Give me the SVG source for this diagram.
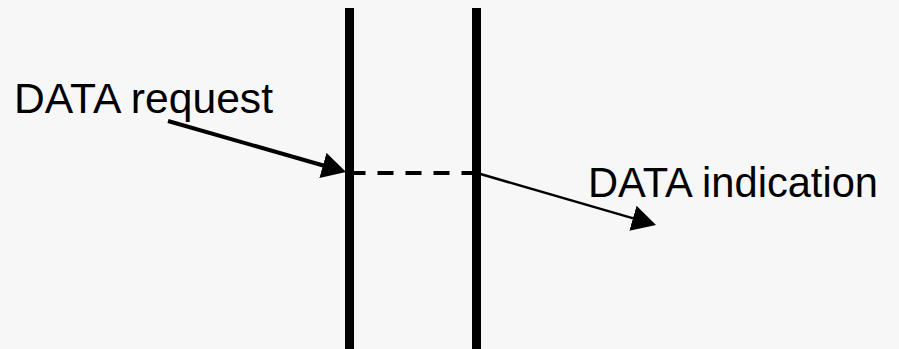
<svg xmlns="http://www.w3.org/2000/svg" width="899" height="349" viewBox="0 0 899 349">
  <style>
    .lane { stroke: #000; stroke-width: 9; fill: none; }
    .arrow { stroke: #000; fill: none; }
    .label { font-family: "Liberation Sans", Arial, sans-serif; font-size: 42px; fill: #000; }
  </style>
  <defs>
    <marker id="head" viewBox="0 -13 24 26" refX="4" refY="0" markerWidth="24" markerHeight="26" markerUnits="userSpaceOnUse" orient="auto">
      <path d="M0,-13 L24,0 L0,13 z" fill="#000"/>
    </marker>
  </defs>
  <rect width="899" height="349" fill="#f7f7f7"/>
  <g id="lane-left"><line class="lane" x1="349.5" y1="8" x2="349.5" y2="349"/></g>
  <g id="lane-right"><line class="lane" x1="476.5" y1="8" x2="476.5" y2="349"/></g>
  <g id="label-request"><text class="label" x="14" y="113" textLength="259" lengthAdjust="spacingAndGlyphs">DATA request</text></g>
  <g id="label-indication"><text class="label" x="588" y="197" textLength="290" lengthAdjust="spacingAndGlyphs">DATA indication</text></g>
  <g id="connectors">
    <line class="arrow" stroke-width="4" x1="168" y1="121" x2="326.8" y2="166.5" marker-end="url(#head)"/>
    <line class="arrow" stroke-width="4" stroke-dasharray="16 12" x1="349.5" y1="173" x2="476.5" y2="173"/>
    <line class="arrow" stroke-width="2.5" x1="477" y1="173" x2="636.8" y2="219.4" marker-end="url(#head)"/>
  </g>
</svg>
